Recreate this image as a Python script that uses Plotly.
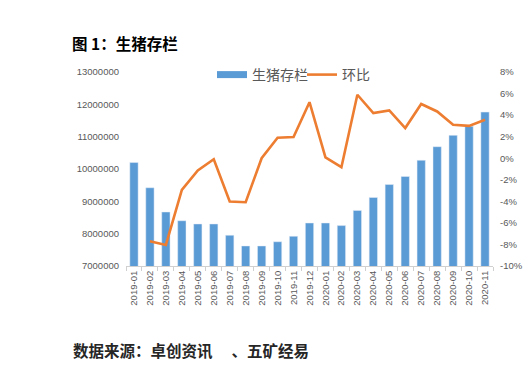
import plotly.graph_objects as go

months = ["2019-01","2019-02","2019-03","2019-04","2019-05","2019-06","2019-07","2019-08",
          "2019-09","2019-10","2019-11","2019-12","2020-01","2020-02","2020-03","2020-04",
          "2020-05","2020-06","2020-07","2020-08","2020-09","2020-10","2020-11"]
stock = [10200000, 9420000, 8670000, 8400000, 8300000, 8300000, 7950000, 7620000,
         7620000, 7750000, 7920000, 8330000, 8330000, 8250000, 8720000, 9120000,
         9520000, 9770000, 10270000, 10690000, 11040000, 11320000, 11760000]
mom = [None, -7.7, -8.05, -2.94, -1.14, -0.09, -4.02, -4.08,
       0.0, 1.9, 1.96, 5.2, 0.07, -0.83, 5.89, 4.19,
       4.43, 2.8, 5.03, 4.34, 3.1, 3.0, 3.57]
left_ticks = [7000000, 8000000, 9000000, 10000000, 11000000, 12000000, 13000000]
right_ticks = [-10, -8, -6, -4, -2, 0, 2, 4, 6, 8]

FONT = "Liberation Sans, Noto Sans CJK SC, sans-serif"
CJK = "Noto Sans CJK SC, sans-serif"
BLUE = "#5B9BD5"
ORANGE = "#ED7D31"

# figure is drawn inside the page body (8px default margin), so size is reduced
W, H = 524, 364
L, R, T, B = 118, 39, 64, 106
PW, PH = W - L - R, H - T - B


def px(x):
    return (x - L) / PW


def py(y):
    return (H - B - y) / PH


fig = go.Figure()
fig.add_trace(go.Bar(x=months, y=stock, name="生猪存栏", marker_color=BLUE,
                     yaxis="y", showlegend=False))
# legend entry drawn as a wide flat swatch, like the reference
fig.add_trace(go.Scatter(x=[None], y=[None], name="生猪存栏", mode="lines",
                         line=dict(color=BLUE, width=7), yaxis="y",
                         legend="legend", hoverinfo="skip"))
fig.add_trace(go.Scatter(x=months, y=mom, name="环比", mode="lines",
                         line=dict(color=ORANGE, width=2.6), yaxis="y2",
                         legend="legend2"))

leg_common = dict(orientation="h", yanchor="middle", xanchor="left",
                  font=dict(family=CJK, size=14, color="#595959"),
                  bgcolor="rgba(255,255,255,0)")

fig.update_layout(
    width=W, height=H,
    margin=dict(l=L, r=R, t=T, b=B, autoexpand=False),
    paper_bgcolor="white", plot_bgcolor="white",
    bargap=0.48,
    font=dict(family=FONT, size=9.5, color="#595959"),
    showlegend=True,
    legend=dict(x=px(204), y=py(67), **leg_common),
    legend2=dict(x=px(294), y=py(67), **leg_common),
    xaxis=dict(type="category", showline=True, linecolor="#D0D0D0", linewidth=1,
               ticks="outside", ticklen=4, tickcolor="#D0D0D0", tickson="boundaries",
               tickangle=-90, tickfont=dict(size=9.5, color="#595959"),
               showgrid=False, zeroline=False),
    yaxis=dict(range=[7000000, 13000000], tickvals=left_ticks,
               ticktext=[str(v) for v in left_ticks], showgrid=False, zeroline=False,
               showline=False, tickfont=dict(size=9.5, color="#595959"),
               ticklabelstandoff=6),
    yaxis2=dict(range=[-10, 8], tickvals=right_ticks,
                ticktext=[f"{v}%" for v in right_ticks], overlaying="y", side="right",
                showgrid=False, zeroline=False, showline=False,
                tickfont=dict(size=9.5, color="#595959"), ticklabelstandoff=6),
    annotations=[
        dict(text="<b>图 1：生猪存栏</b>", xref="paper", yref="paper",
             x=px(62), y=py(35), xanchor="left", yanchor="middle", showarrow=False,
             font=dict(family=CJK, size=15.5, color="#000000")),
        dict(text="<b>数据来源：卓创资讯　 、五矿经易</b>", xref="paper", yref="paper",
             x=px(63), y=py(342), xanchor="left", yanchor="middle", showarrow=False,
             font=dict(family=CJK, size=15.5, color="#262626")),
    ],
)

fig.write_html("out.html")
